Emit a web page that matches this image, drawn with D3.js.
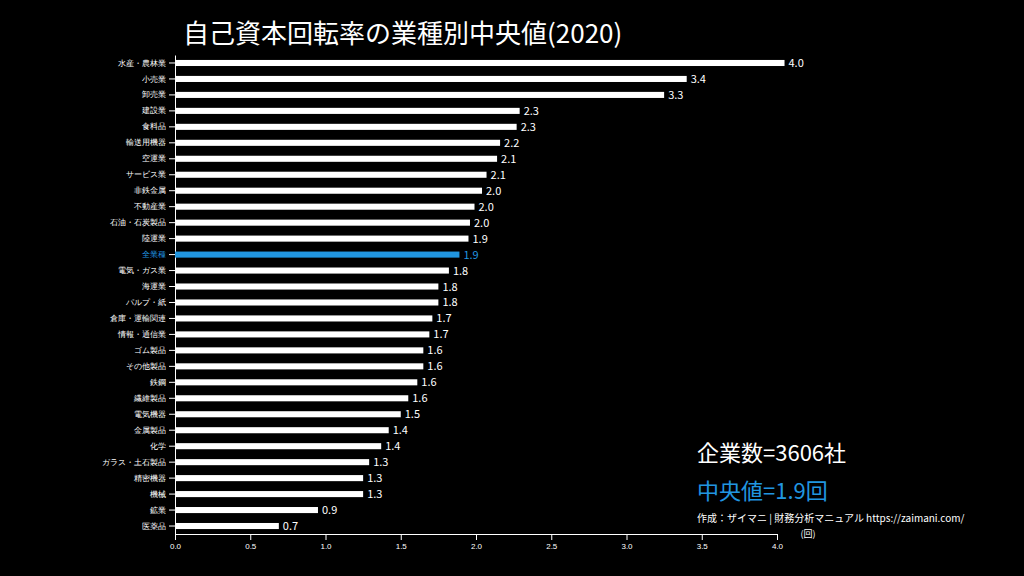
<!DOCTYPE html>
<html><head><meta charset="utf-8">
<script src="https://cdn.jsdelivr.net/npm/d3@7"></script>
<style>
body{margin:0;background:#000;}
svg{font-family:"Noto Sans CJK JP","Noto Sans",sans-serif;}
</style></head>
<body><svg id="chart" width="1024" height="576"></svg>
<script>
// data
const categories = ["水産・農林業","小売業","卸売業","建設業","食料品","輸送用機器","空運業","サービス業","非鉄金属","不動産業","石油・石炭製品","陸運業","全業種","電気・ガス業","海運業","パルプ・紙","倉庫・運輸関連","情報・通信業","ゴム製品","その他製品","鉄鋼","繊維製品","電気機器","金属製品","化学","ガラス・土石製品","精密機器","機械","鉱業","医薬品"];
const values = [4.05,3.40,3.25,2.29,2.27,2.16,2.14,2.07,2.04,1.99,1.96,1.95,1.89,1.82,1.75,1.75,1.71,1.69,1.65,1.65,1.61,1.55,1.50,1.42,1.37,1.29,1.25,1.25,0.95,0.69];
const xTicks = [0,0.5,1,1.5,2,2.5,3,3.5,4];
const highlight = "全業種";

const svg = d3.select('#chart');
const blue = '#2196e0';
const padLeft = 175, padRight = 777, padTop = 55, padBottom = 534;

const x = d3.scaleLinear().domain([0,4]).range([padLeft,padRight]);
const y = d3.scaleBand().domain(categories).range([padTop,padBottom]).paddingInner(0.62).paddingOuter(0.31);

svg.append('text').attr('x',183).attr('y',43).attr('fill','#fff')
  .style('font-size','26px').text('自己資本回転率の業種別中央値(2020)');

// axes
const xAxis = svg.append('g').attr('transform','translate(0,'+padBottom+')')
  .call(d3.axisBottom(x).tickValues(xTicks).tickFormat(d3.format('.1f')).tickSizeOuter(0));
const yAxis = svg.append('g').attr('transform','translate('+padLeft+',0)')
  .call(d3.axisLeft(y).tickSizeOuter(0));
[xAxis,yAxis].forEach(a=>{
  a.selectAll('path,line').attr('stroke','#fff');
  a.selectAll('text').attr('fill','#fff').style('font-size','8px');
});
yAxis.selectAll('text').style('fill',d=>d===highlight?blue:'#fff');

// bars
svg.append('g').selectAll('rect').data(values).join('rect')
  .attr('x',x(0)).attr('y',(d,i)=>y(categories[i]))
  .attr('width',d=>x(d)-x(0)).attr('height',y.bandwidth())
  .attr('fill',(d,i)=>categories[i]===highlight?blue:'#fff');
svg.append('g').selectAll('text').data(values).join('text')
  .attr('x',d=>x(d)+4).attr('y',(d,i)=>y(categories[i])+y.bandwidth()/2+4)
  .attr('fill',(d,i)=>categories[i]===highlight?blue:'#fff')
  .style('font-size','11px').text(d=>d.toFixed(1));

// notes
svg.append('text').attr('x',697).attr('y',461).attr('fill','#fff').style('font-size','22px').text('企業数=3606社');
svg.append('text').attr('x',697).attr('y',499).attr('fill',blue).style('font-size','22px').text('中央値=1.9回');
svg.append('text').attr('x',697).attr('y',522).attr('fill','#fff').style('font-size','10px').text('作成：ザイマニ | 財務分析マニュアル https://zaimani.com/');
svg.append('text').attr('x',808).attr('y',537).attr('fill','#fff').style('font-size','9px').attr('text-anchor','middle').text('(回)');
</script></body></html>
